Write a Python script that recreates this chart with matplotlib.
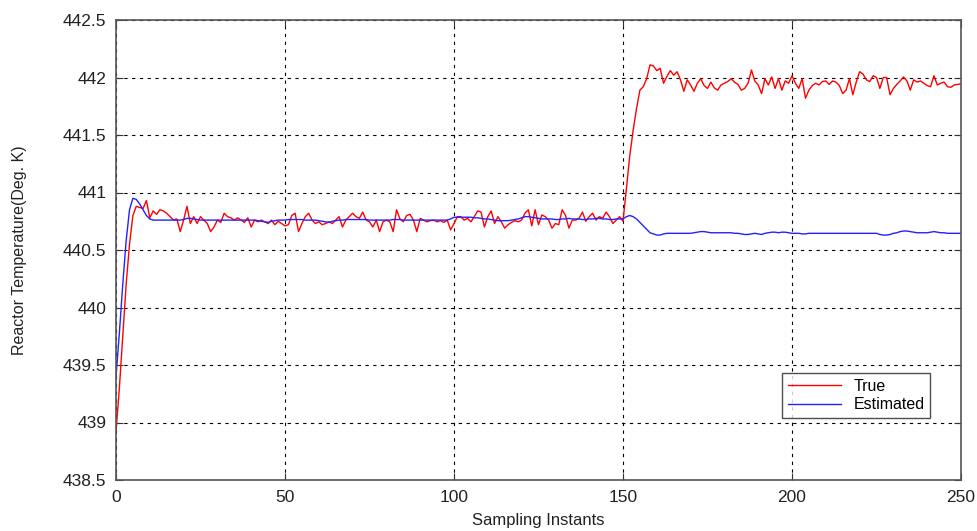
import matplotlib
matplotlib.use("Agg")
import matplotlib.pyplot as plt

plt.rcParams['font.family'] = ['Liberation Sans', 'DejaVu Sans']

# Sampling instants 0..250
samples = list(range(251))

# Measured (true) reactor temperature, deg K
true_temp = [
    438.92, 439.30, 439.75, 440.20, 440.55, 440.80, 440.88, 440.87, 440.86, 440.93,
    440.78, 440.84, 440.81, 440.85, 440.84, 440.82, 440.79, 440.76, 440.77, 440.66,
    440.76, 440.88, 440.73, 440.79, 440.73, 440.79, 440.76, 440.73, 440.66, 440.70,
    440.76, 440.74, 440.82, 440.79, 440.78, 440.76, 440.78, 440.76, 440.74, 440.78,
    440.70, 440.76, 440.745, 440.76, 440.745, 440.73, 440.76, 440.72, 440.75, 440.73,
    440.71, 440.72, 440.80, 440.82, 440.66, 440.73, 440.79, 440.82, 440.76, 440.73,
    440.745, 440.72, 440.73, 440.745, 440.73, 440.76, 440.79, 440.70, 440.76, 440.79,
    440.82, 440.79, 440.775, 440.83, 440.76, 440.745, 440.70, 440.76, 440.66, 440.745,
    440.76, 440.745, 440.66, 440.85, 440.77, 440.745, 440.80, 440.81, 440.76, 440.66,
    440.775, 440.76, 440.745, 440.755, 440.76, 440.745, 440.755, 440.74, 440.76, 440.675,
    440.73, 440.79, 440.79, 440.76, 440.775, 440.745, 440.79, 440.84, 440.83, 440.70,
    440.79, 440.84, 440.73, 440.79, 440.745, 440.69, 440.72, 440.74, 440.755, 440.745,
    440.76, 440.82, 440.85, 440.71, 440.85, 440.72, 440.805, 440.79, 440.76, 440.69,
    440.73, 440.72, 440.85, 440.80, 440.69, 440.76, 440.76, 440.775, 440.83, 440.75,
    440.79, 440.82, 440.76, 440.79, 440.775, 440.83, 440.79, 440.73, 440.76, 440.79,
    440.75, 441.03, 441.32, 441.54, 441.73, 441.89, 441.92, 441.99, 442.11, 442.10,
    442.06, 442.08, 441.95, 442.01, 442.06, 442.02, 442.05, 441.98, 441.88, 441.98,
    441.935, 441.88, 441.95, 441.99, 441.93, 441.905, 441.96, 441.91, 441.89, 441.935,
    441.95, 441.965, 441.99, 441.96, 441.94, 441.89, 441.905, 441.95, 442.065, 441.97,
    441.935, 441.86, 441.99, 441.935, 442.005, 441.905, 441.99, 441.89, 441.97, 441.95,
    442.015, 441.95, 441.905, 441.99, 441.82, 441.89, 441.93, 441.95, 441.935, 441.965,
    441.97, 441.94, 441.97, 441.96, 441.93, 441.86, 441.89, 441.99, 441.85, 441.96,
    442.05, 442.03, 441.98, 441.965, 442.015, 442.00, 441.905, 442.00, 442.00, 441.85,
    441.905, 441.94, 441.97, 442.005, 441.97, 441.89, 441.98, 441.96, 441.97, 441.95,
    441.93, 441.92, 442.015, 441.935, 441.95, 441.96, 441.92, 441.915, 441.935, 441.94,
    441.945,
]

# Estimated reactor temperature, deg K
est_temp = [
    439.40, 439.78, 440.20, 440.58, 440.85, 440.95, 440.94, 440.90, 440.85, 440.80,
    440.77, 440.76, 440.76, 440.76, 440.76, 440.76, 440.76, 440.76, 440.76, 440.76,
    440.765, 440.775, 440.775, 440.77, 440.765, 440.76, 440.76, 440.76, 440.76, 440.76,
    440.76, 440.76, 440.76, 440.76, 440.76, 440.76, 440.76, 440.76, 440.76, 440.76,
    440.76, 440.76, 440.755, 440.75, 440.745, 440.74, 440.75, 440.755, 440.76, 440.76,
    440.76, 440.765, 440.765, 440.765, 440.765, 440.765, 440.76, 440.76, 440.76, 440.76,
    440.755, 440.75, 440.745, 440.74, 440.75, 440.755, 440.76, 440.76, 440.765, 440.765,
    440.765, 440.765, 440.765, 440.765, 440.765, 440.76, 440.76, 440.76, 440.76, 440.76,
    440.76, 440.76, 440.765, 440.765, 440.765, 440.76, 440.76, 440.76, 440.76, 440.76,
    440.76, 440.76, 440.76, 440.76, 440.76, 440.76, 440.76, 440.76, 440.76, 440.77,
    440.785, 440.785, 440.785, 440.785, 440.785, 440.785, 440.78, 440.78, 440.775, 440.77,
    440.77, 440.765, 440.76, 440.755, 440.755, 440.755, 440.755, 440.76, 440.765, 440.77,
    440.78, 440.79, 440.79, 440.785, 440.78, 440.775, 440.77, 440.77, 440.77, 440.77,
    440.765, 440.765, 440.77, 440.77, 440.775, 440.77, 440.77, 440.77, 440.765, 440.765,
    440.77, 440.77, 440.775, 440.775, 440.77, 440.77, 440.765, 440.765, 440.77, 440.77,
    440.77, 440.79, 440.80, 440.79, 440.77, 440.74, 440.71, 440.68, 440.65, 440.64,
    440.63, 440.63, 440.64, 440.645, 440.645, 440.645, 440.645, 440.645, 440.645, 440.645,
    440.645, 440.65, 440.655, 440.66, 440.66, 440.655, 440.65, 440.65, 440.65, 440.65,
    440.65, 440.65, 440.65, 440.645, 440.645, 440.64, 440.635, 440.635, 440.64, 440.645,
    440.64, 440.635, 440.645, 440.65, 440.655, 440.655, 440.65, 440.655, 440.655, 440.65,
    440.645, 440.645, 440.645, 440.64, 440.64, 440.645, 440.645, 440.645, 440.645, 440.645,
    440.645, 440.645, 440.645, 440.645, 440.645, 440.645, 440.645, 440.645, 440.645, 440.645,
    440.645, 440.645, 440.645, 440.645, 440.645, 440.645, 440.635, 440.63, 440.63, 440.635,
    440.645, 440.65, 440.66, 440.665, 440.665, 440.66, 440.655, 440.65, 440.65, 440.65,
    440.65, 440.655, 440.66, 440.655, 440.65, 440.65, 440.645, 440.645, 440.645, 440.645,
    440.645,
]

x_ticks = [0, 50, 100, 150, 200, 250]
y_ticks = [438.5, 439, 439.5, 440, 440.5, 441, 441.5, 442, 442.5]
y_tick_labels = ['438.5', '439', '439.5', '440', '440.5', '441', '441.5', '442', '442.5']

fig = plt.figure(figsize=(9.78, 5.31), dpi=100)
ax = fig.add_axes([116 / 978, 1 - 480 / 531, 845 / 978, 460 / 531])

ax.plot(samples, true_temp, color='#ff0000', lw=1.0, label='True')
ax.plot(samples, est_temp, color='#2222ff', lw=1.0, label='Estimated')

ax.set_xlim(0, 250)
ax.set_ylim(438.5, 442.5)
ax.set_xticks(x_ticks)
ax.set_yticks(y_ticks)
ax.set_yticklabels(y_tick_labels)

ax.grid(True, color='black', linestyle=(0, (3, 4)), linewidth=0.8)
ax.tick_params(direction='in', length=5, width=0.8, colors='#333333',
               labelcolor='#222222', labelsize=12.5, top=True, right=True, pad=7)
for side in ax.spines.values():
    side.set_color('#555555')
    side.set_linewidth(1.2)

ax.set_xlabel('Sampling Instants', fontsize=12, color='#222222', va='center')
ax.xaxis.set_label_coords(0.5, -40 / 460)
ax.set_ylabel('Reactor Temperature(Deg. K)', fontsize=11.5, color='#222222', va='center')
ax.yaxis.set_label_coords(-96 / 845, 0.5)

leg = ax.legend(loc='lower right', bbox_to_anchor=(930 / 978, 1 - 418 / 531),
                bbox_transform=fig.transFigure, fontsize=11.5, frameon=True,
                fancybox=False, handlelength=3.3, borderpad=0.35, labelspacing=0.22,
                handletextpad=0.8, borderaxespad=0)
leg.get_frame().set_edgecolor('#222222')
leg.get_frame().set_linewidth(1.0)

fig.savefig('out.png', dpi=100)
